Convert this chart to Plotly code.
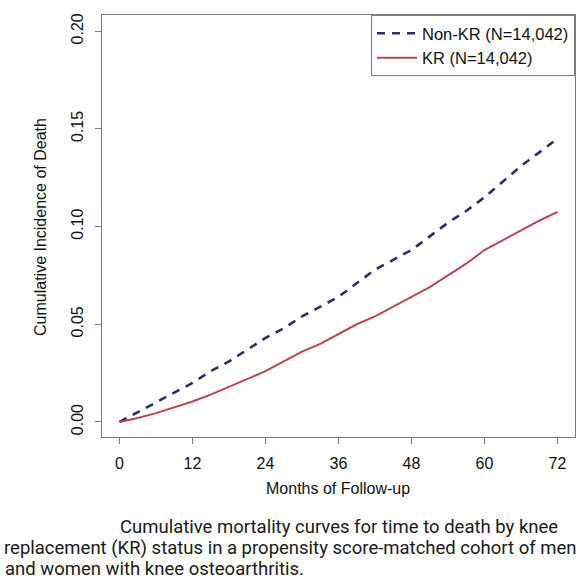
import plotly.graph_objects as go

months = [0, 3, 6, 9, 12, 15, 18, 21, 24, 27, 30, 33, 36, 39, 42, 45, 48, 51, 54, 57, 60, 63, 66, 69, 72]
non_kr = [0.000, 0.005, 0.010, 0.015, 0.020, 0.026, 0.031, 0.037, 0.043, 0.048, 0.054, 0.059, 0.064,
          0.071, 0.078, 0.083, 0.088, 0.095, 0.102, 0.108, 0.115, 0.123, 0.131, 0.138, 0.145]
kr = [0.000, 0.002, 0.0045, 0.0075, 0.0105, 0.014, 0.018, 0.022, 0.026, 0.031, 0.036, 0.040, 0.045,
      0.050, 0.054, 0.059, 0.064, 0.069, 0.075, 0.081, 0.088, 0.093, 0.098, 0.103, 0.1075]
x_ticks = [0, 12, 24, 36, 48, 60, 72]
y_ticks = [0.00, 0.05, 0.10, 0.15, 0.20]
y_tick_labels = ["0.00", "0.05", "0.10", "0.15", "0.20"]
names = ["Non-KR (N=14,042)", "KR (N=14,042)"]
caption = [
    "Cumulative mortality curves for time to death by knee",
    "replacement (KR) status in a propensity score-matched cohort of men",
    "and women with knee osteoarthritis.",
]

W, H = 578, 583
L, R, T, B = 102, 3, 15, 146
pw, ph = W - L - R, H - T - B

fig = go.Figure()
fig.add_trace(go.Scatter(x=months, y=non_kr, mode="lines", name=names[0],
                         line=dict(color="#2c2f64", width=2.6, dash="8px,7px")))
fig.add_trace(go.Scatter(x=months, y=kr, mode="lines", name=names[1],
                         line=dict(color="#b84652", width=2)))

font_main = dict(family="'Liberation Sans', Arial, sans-serif", size=16, color="#111111")

fig.update_layout(
    width=W, height=H,
    margin=dict(l=L, r=R, t=T, b=B),
    paper_bgcolor="white", plot_bgcolor="white",
    font=font_main,
    showlegend=True,
    legend=dict(x=1, xanchor="right", y=1, yanchor="top",
                bordercolor="#7a7a7a", borderwidth=1, bgcolor="white",
                font=dict(size=16.5), tracegroupgap=0, itemwidth=40),
    xaxis=dict(range=[-2.88, 74.88], tickvals=x_ticks, ticks="outside", ticklen=6,
               tickcolor="#7a7a7a", showgrid=False, zeroline=False,
               showline=True, mirror=True, linecolor="#7a7a7a", linewidth=1,
               tickfont=dict(size=16), ticklabelstandoff=6),
    yaxis=dict(range=[-0.0077, 0.2083], tickvals=y_ticks, ticktext=y_tick_labels,
               ticks="outside", ticklen=6, tickcolor="#7a7a7a", tickangle=-90,
               showgrid=False, zeroline=False, showline=True, mirror=True,
               linecolor="#7a7a7a", linewidth=1, tickfont=dict(size=16),
               ticklabelstandoff=6),
)

def px_x(p):
    return (p - L) / pw

def px_y(p):
    return (H - B - p) / ph

fig.add_annotation(text="Months of Follow-up", xref="paper", yref="paper",
                   x=px_x(338), y=px_y(488), showarrow=False, font=dict(size=16),
                   xanchor="center", yanchor="middle")
fig.add_annotation(text="Cumulative Incidence of Death", xref="paper", yref="paper",
                   x=px_x(40), y=px_y(227), showarrow=False, font=dict(size=16),
                   textangle=-90, xanchor="center", yanchor="middle")

cap_font = dict(family="Roboto, sans-serif", size=18.5, color="#1a1a1a")
cap_pos = [(118, 527), (2, 548), (3, 569)]
for line, (cx, cy) in zip(caption, cap_pos):
    fig.add_annotation(text=line, xref="paper", yref="paper", x=px_x(cx), y=px_y(cy),
                       showarrow=False, font=cap_font, xanchor="left", yanchor="middle")

fig.write_html("out.html", config={"displayModeBar": False},
               post_script="document.body.style.margin='0';")
